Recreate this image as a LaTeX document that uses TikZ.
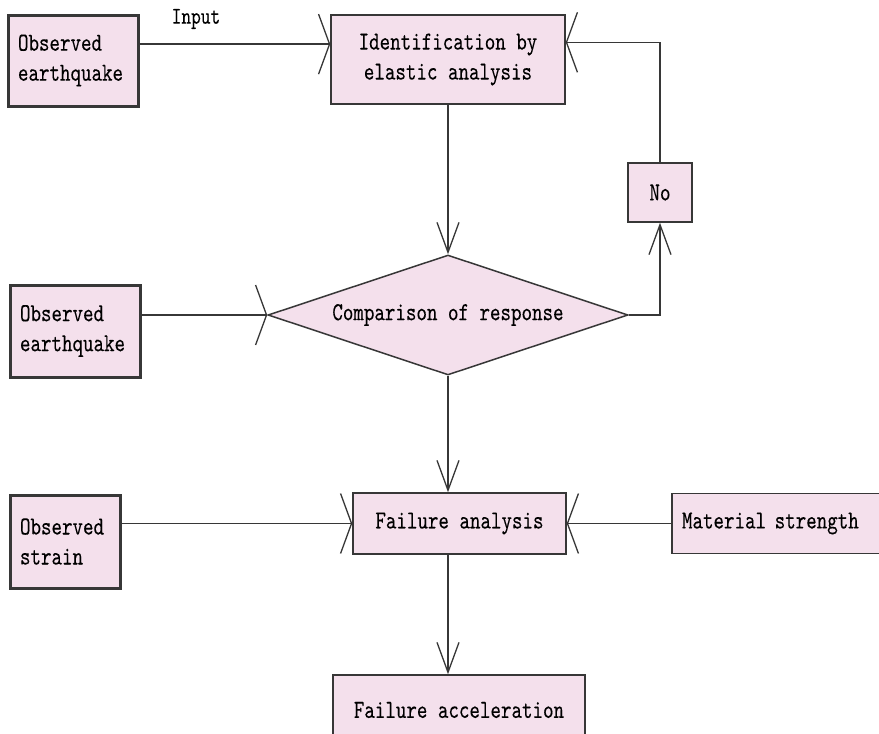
\documentclass[tikz,border=0pt]{standalone}
\usepackage{fontspec}
\newfontfamily\mono[FakeStretch=0.77,FakeBold=0.15]{lmmono10-regular.otf}
\usetikzlibrary{arrows.meta,shapes.geometric,calc}
\definecolor{boxfill}{RGB}{244,224,236}
\definecolor{ink}{RGB}{55,55,55}
\begin{document}
\begin{tikzpicture}[x=1pt,y=-1pt,
  box/.style={draw=ink,fill=boxfill,line width=1.5pt,font=\mono\fontsize{26}{30}\selectfont,inner sep=0pt,align=center},
  thickbox/.style={box,line width=3pt,inner xsep=10pt,text width=110pt,align=left},
  conn/.style={draw=ink,line width=1.3pt},
  harr/.style={conn,-{Straight Barb[length=11pt,width=60pt]}},
  varr/.style={conn,-{Straight Barb[length=30pt,width=22pt]}}]
\useasboundingbox (0,0) rectangle (879,734);
\clip (0,0) rectangle (879,734);
\fill[white] (0,0) rectangle (879,734);

% nodes
\node[thickbox,minimum height=91pt] (oe1) at (73,60.5) {Observed\\earthquake};
\node[box,minimum width=234pt,minimum height=89pt] (id) at (448,59.5) {Identification by\\elastic analysis};
\node[box,minimum width=64pt,minimum height=59pt] (no) at (660,192.5) {No};
\node[box,diamond,minimum width=360pt,minimum height=120pt,aspect=3] (cmp) at (448,315) {Comparison of response};
\node[thickbox,minimum height=92pt] (oe2) at (75,331) {Observed\\earthquake};
\node[box,minimum width=213pt,minimum height=61pt] (fa) at (459.5,523.5) {Failure analysis};
\node[thickbox,minimum height=93pt,text width=90pt] (os) at (65,541.5) {Observed\\strain};
\node[box,minimum width=228pt,minimum height=60pt,text width=208pt,inner xsep=10pt,align=left] (ms) at (786,523.5) {Material strength};
\node[box,minimum width=252pt,minimum height=70pt] (facc) at (459,710) {Failure acceleration};
\node[font=\mono\fontsize{24}{28}\selectfont,inner sep=0pt] (inp) at (196,19) {Input};

% connectors
\coordinate (inL) at ($(id.north west)!0.33!(id.south west)$);
\coordinate (inR) at ($(id.north east)!0.31!(id.south east)$);
\draw[harr] (oe1.east |- inL) -- (inL);
\draw[varr] (id.south) -- (cmp.north);
\draw[harr] (oe2.east |- cmp.west) -- (cmp.west);
\draw[varr] (cmp.east) -| (no.south);
\draw[harr] (no.north) |- (inR);
\draw[varr] (cmp.south) -- (cmp.south |- fa.north);
\draw[harr] (os.east |- fa.west) -- (fa.west);
\draw[harr] (ms.west |- fa.east) -- (fa.east);
\draw[varr] (cmp.south |- fa.south) -- (cmp.south |- facc.north);
\end{tikzpicture}
\end{document}
